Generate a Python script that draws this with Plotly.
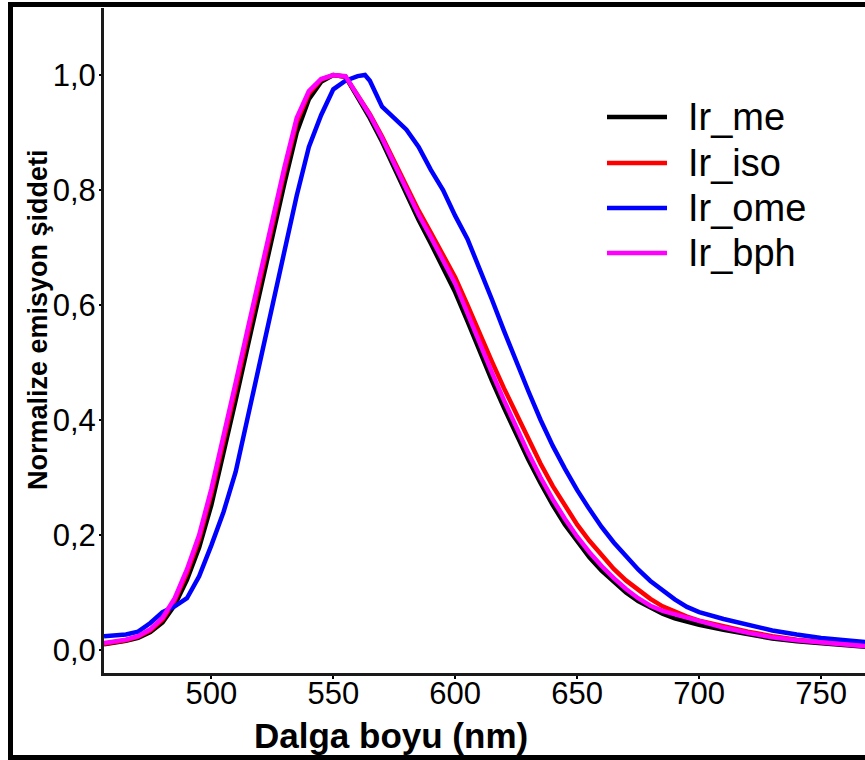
import plotly.graph_objects as go

# Wavelength grid (nm) shared by the Ir_me / Ir_iso / Ir_bph spectra
wl = [456, 460, 465, 470, 475, 480, 485, 490, 495, 500, 505, 510, 515, 520, 525,
      530, 535, 540, 545, 550, 555, 560, 565, 570, 575, 580, 585, 590, 595, 600,
      605, 610, 615, 620, 625, 630, 635, 640, 645, 650, 655, 660, 665, 670, 675,
      680, 685, 690, 695, 700, 710, 720, 730, 740, 750, 760, 770]

ir_me = [0.010, 0.012, 0.016, 0.021, 0.031, 0.048, 0.078, 0.122, 0.178, 0.252,
         0.340, 0.435, 0.530, 0.625, 0.718, 0.812, 0.900, 0.958, 0.988, 1.000,
         0.997, 0.962, 0.925, 0.884, 0.838, 0.792, 0.748, 0.707, 0.666, 0.622,
         0.572, 0.519, 0.469, 0.421, 0.375, 0.331, 0.290, 0.252, 0.218, 0.188,
         0.161, 0.138, 0.118, 0.100, 0.085, 0.073, 0.063, 0.055, 0.049, 0.044,
         0.035, 0.027, 0.020, 0.015, 0.011, 0.008, 0.005]

ir_iso = [0.011, 0.013, 0.017, 0.023, 0.034, 0.053, 0.086, 0.134, 0.193, 0.272,
          0.360, 0.455, 0.550, 0.645, 0.737, 0.832, 0.918, 0.968, 0.992, 1.000,
          0.997, 0.966, 0.932, 0.893, 0.850, 0.806, 0.764, 0.726, 0.688, 0.648,
          0.600, 0.550, 0.502, 0.455, 0.410, 0.366, 0.324, 0.285, 0.250, 0.218,
          0.190, 0.164, 0.141, 0.121, 0.104, 0.089, 0.076, 0.066, 0.058, 0.051,
          0.041, 0.032, 0.024, 0.018, 0.014, 0.010, 0.007]

ir_bph = [0.012, 0.014, 0.018, 0.024, 0.036, 0.056, 0.090, 0.140, 0.200, 0.280,
          0.370, 0.465, 0.560, 0.655, 0.745, 0.840, 0.925, 0.972, 0.993, 1.000,
          0.998, 0.965, 0.930, 0.890, 0.845, 0.800, 0.757, 0.718, 0.678, 0.637,
          0.586, 0.533, 0.483, 0.434, 0.387, 0.342, 0.300, 0.262, 0.228, 0.197,
          0.170, 0.146, 0.125, 0.106, 0.090, 0.077, 0.068, 0.062, 0.055, 0.049,
          0.039, 0.030, 0.022, 0.017, 0.013, 0.009, 0.006]

# Ir_ome has a slightly different grid around its flat-topped maximum
wl_ome = [456, 460, 465, 470, 475, 480, 485, 490, 495, 500, 505, 510, 515, 520,
          525, 530, 535, 540, 545, 550, 555, 560, 563, 565, 570, 575, 580, 585,
          590, 595, 600, 605, 610, 615, 620, 625, 630, 635, 640, 645, 650, 655,
          660, 665, 670, 675, 680, 685, 690, 695, 700, 710, 720, 730, 740, 750,
          760, 770]

ir_ome = [0.024, 0.025, 0.027, 0.032, 0.047, 0.066, 0.076, 0.090, 0.128, 0.182,
          0.240, 0.310, 0.405, 0.500, 0.595, 0.690, 0.790, 0.875, 0.930, 0.975,
          0.990, 0.998, 1.000, 0.990, 0.945, 0.925, 0.905, 0.875, 0.835, 0.800,
          0.755, 0.715, 0.665, 0.610, 0.555, 0.500, 0.450, 0.400, 0.355, 0.315,
          0.278, 0.245, 0.214, 0.187, 0.162, 0.140, 0.120, 0.103, 0.088, 0.075,
          0.066, 0.054, 0.043, 0.034, 0.027, 0.021, 0.017, 0.013]

names = ["Ir_me", "Ir_iso", "Ir_ome", "Ir_bph"]
colors = ["#000000", "#ff0000", "#0000ff", "#ff00ff"]
xs = [wl, wl, wl_ome, wl]
ys = [ir_me, ir_iso, ir_ome, ir_bph]

x_ticks = [500, 550, 600, 650, 700, 750]
y_ticks = [0.0, 0.2, 0.4, 0.6, 0.8, 1.0]
y_ticktext = ["0,0", "0,2", "0,4", "0,6", "0,8", "1,0"]

FONT = "Liberation Sans, Arial, sans-serif"
W, H = 865, 760
L, R, T, B = 104, 0, 8, 87
PW, PH = W - L - R, H - T - B


def px(x):
    return (x - L) / PW


def py(y):
    return (H - B - y) / PH


fig = go.Figure()
for x, y, n, c in zip(xs, ys, names, colors):
    fig.add_trace(go.Scatter(x=x, y=y, mode="lines", name=n,
                             line=dict(color=c, width=4.5), showlegend=False))

# Hand-drawn legend: long line samples with large labels
leg_y = [117, 163, 208, 253]
for n, c, yy in zip(names, colors, leg_y):
    fig.add_shape(type="line", xref="paper", yref="paper",
                  x0=px(607), x1=px(667), y0=py(yy), y1=py(yy),
                  line=dict(color=c, width=4.5))
    fig.add_annotation(xref="paper", yref="paper", x=px(686), y=py(yy),
                       text=n, showarrow=False, xanchor="left", yanchor="middle",
                       font=dict(family=FONT, size=38, color="#000000"))

# Axis titles
fig.add_annotation(xref="paper", yref="paper", x=px(391), y=py(735),
                   text="<b>Dalga boyu (nm)</b>", showarrow=False,
                   xanchor="center", yanchor="middle",
                   font=dict(family=FONT, size=35, color="#000000"))
fig.add_annotation(xref="paper", yref="paper", x=px(38), y=py(320),
                   text="<b>Normalize emisyon şiddeti</b>", showarrow=False,
                   textangle=-90, xanchor="center", yanchor="middle",
                   font=dict(family=FONT, size=27, color="#000000"))

# Outer black frame (top, left, bottom)
frame = dict(type="rect", xref="paper", yref="paper", fillcolor="#000000",
             line=dict(width=0), layer="above")
fig.add_shape(**frame, x0=px(8), x1=px(W + 5), y0=py(7), y1=py(2))
fig.add_shape(**frame, x0=px(8), x1=px(13), y0=py(H + 5), y1=py(2))
fig.add_shape(**frame, x0=px(8), x1=px(W + 5), y0=py(H + 5), y1=py(755))

fig.update_layout(
    width=W, height=H,
    margin=dict(l=L, r=R, t=T, b=B, pad=0),
    paper_bgcolor="#ffffff", plot_bgcolor="#ffffff",
    font=dict(family=FONT, size=31, color="#000000"),
    xaxis=dict(range=[456, 768], tickvals=x_ticks, ticks="outside",
               ticklen=3, tickwidth=2, tickcolor="#000000",
               ticklabelstandoff=-12,
               showline=True, linecolor="#1a1a1a", linewidth=3,
               showgrid=False, zeroline=False,
               tickfont=dict(family=FONT, size=31, color="#000000")),
    yaxis=dict(range=[-0.04, 1.1165], tickvals=y_ticks, ticktext=y_ticktext,
               ticks="outside", ticklen=2, tickwidth=2, tickcolor="#000000",
               ticklabelstandoff=-3,
               showline=True, linecolor="#1a1a1a", linewidth=3,
               showgrid=False, zeroline=False,
               tickfont=dict(family=FONT, size=31, color="#000000")),
)

fig.write_html("out.html")
